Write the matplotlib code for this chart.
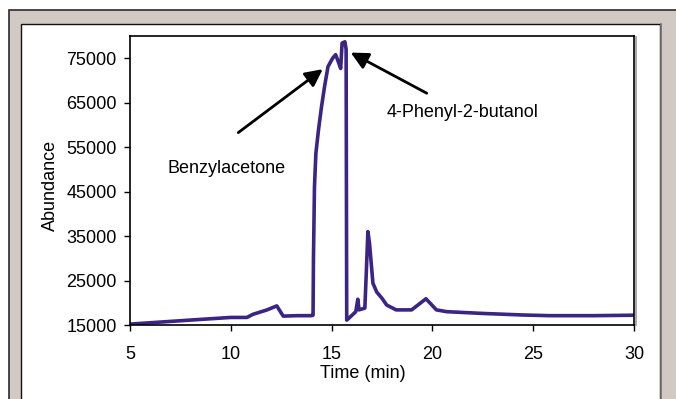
import matplotlib
matplotlib.use("Agg")
import matplotlib.pyplot as plt
from matplotlib.patches import Rectangle
from matplotlib.lines import Line2D

# chromatogram trace
time_min = [5.0, 6.65, 8.3, 10.0, 10.8, 11.1, 11.8, 12.28, 12.6, 13.3, 14.0,
            14.08, 14.1, 14.15, 14.22, 14.35, 14.5, 14.65, 14.82, 15.05, 15.2,
            15.3, 15.45, 15.52, 15.66, 15.72, 15.75, 15.85, 16.2, 16.3, 16.36,
            16.65, 16.72, 16.8, 16.88, 17.05, 17.24, 17.5, 17.73, 18.2, 18.97,
            19.68, 20.2, 20.7, 22.5, 24.5, 25.8, 28.0, 30.0]
abundance = [15200, 15700, 16200, 16700, 16700, 17400, 18400, 19300, 17000, 17100, 17100,
             17200, 30000, 46000, 53600, 58900, 64100, 68600, 73100, 75000, 75800,
             74600, 72700, 78400, 78700, 77000, 16100, 16500, 18000, 20800, 18400,
             18800, 26700, 36000, 33400, 24400, 22400, 21000, 19500, 18400, 18400,
             20900, 18400, 18000, 17600, 17250, 17100, 17100, 17200]

x_ticks = [5, 10, 15, 20, 25, 30]
y_ticks = [15000, 25000, 35000, 45000, 55000, 65000, 75000]

labels = ["Benzylacetone", "4-Phenyl-2-butanol"]
label_pos = [(6.84, 50300), (17.75, 62800)]
arrow_tail = [(10.37, 58270), (19.72, 67130)]
arrow_head = [(14.56, 72530), (15.95, 76270)]

W, H = 676, 399
plt.rcParams['font.family'] = ['Liberation Sans', 'DejaVu Sans']
plt.rcParams['font.size'] = 13

fig = plt.figure(figsize=(W / 100, H / 100), dpi=100)
fig.patch.set_facecolor('white')

# window-like frame around the chart
fig.add_artist(Rectangle((9 / W, -0.1), 1.0, 1.1 - 10 / H, transform=fig.transFigure,
                         facecolor='#d1c9c3', edgecolor='#2b2b2b', lw=1.2, zorder=-3))
fig.add_artist(Rectangle((21 / W, -0.1), (660 - 21) / W, 1.1 - 24 / H, transform=fig.transFigure,
                         facecolor='white', edgecolor='#111111', lw=1.0, zorder=-2))
fig.add_artist(Line2D([661 / W, 661 / W], [0, 1 - 24 / H], transform=fig.transFigure,
                      color='#777777', lw=1.2, zorder=-1))
# soft shadow on the right edge of the plot box
fig.add_artist(Line2D([635.5 / W, 635.5 / W], [1 - 325 / H, 1 - 37 / H], transform=fig.transFigure,
                      color='#999999', lw=1.2, zorder=-1))

ax = fig.add_axes([130 / W, 1 - 325 / H, (634 - 130) / W, (325 - 36) / H])
ax.set_zorder(5)
ax.plot(time_min, abundance, color='#3b2484', lw=2.6, solid_joinstyle='round')

ax.set_xlim(5, 30)
ax.set_ylim(15000, 80000)
ax.set_xticks(x_ticks)
ax.set_yticks(y_ticks)
ax.tick_params(direction='out', length=4, width=1, color='black')
ax.tick_params(axis='y', pad=5.5)
ax.tick_params(axis='x', pad=11)
for s in ax.spines.values():
    s.set_linewidth(1.2)
    s.set_color('black')

ax.set_xlabel('Time (min)')
ax.xaxis.set_label_coords((363 - 130) / 504, (325 - 365) / 289)
ax.set_ylabel('Abundance')
ax.yaxis.set_label_coords((59 - 130) / 504, (325 - 185) / 289)

for txt, pos in zip(labels, label_pos):
    ax.text(pos[0], pos[1], txt, ha='left', va='center')
for tail, head in zip(arrow_tail, arrow_head):
    ax.annotate('', xy=head, xytext=tail,
                arrowprops=dict(arrowstyle='-|>,head_length=0.8,head_width=0.4',
                                lw=2, color='black', shrinkA=0, shrinkB=0))

fig.savefig('out.png', dpi=100)
